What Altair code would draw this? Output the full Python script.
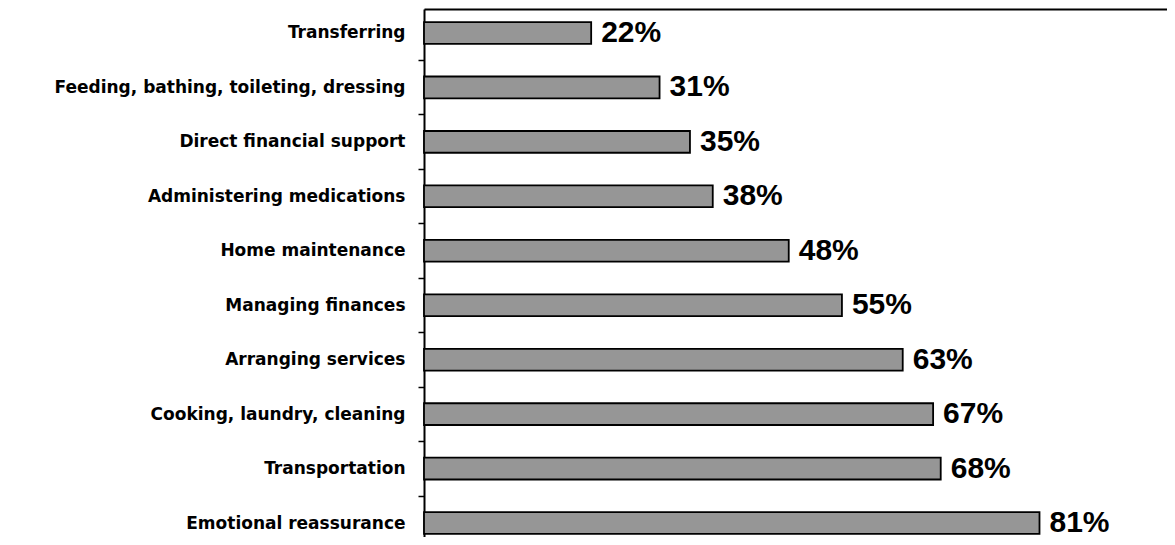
import altair as alt
import pandas as pd

categories = [
    "Transferring",
    "Feeding, bathing, toileting, dressing",
    "Direct financial support",
    "Administering medications",
    "Home maintenance",
    "Managing finances",
    "Arranging services",
    "Cooking, laundry, cleaning",
    "Transportation",
    "Emotional reassurance",
]
values = [22, 31, 35, 38, 48, 55, 63, 67, 68, 81]

df = pd.DataFrame({"task": categories, "pct": values})
df["label"] = df["pct"].astype(str) + "%"

y_enc = alt.Y(
    "task:N",
    sort=categories,
    title=None,
    scale=alt.Scale(paddingInner=0.6, paddingOuter=0.24),
    axis=alt.Axis(
        tickOffset=27,
        labelOffset=-27,
        tickSize=6,
        tickWidth=1.5,
        tickColor="black",
        domainColor="black",
        domainWidth=2,
        labelFont="DejaVu Sans",
        labelFontWeight="bold",
        labelFontSize=17,
        labelColor="black",
        labelPadding=13,
        labelLimit=500,
        grid=False,
    ),
)
x_enc = alt.X(
    "pct:Q",
    title=None,
    scale=alt.Scale(domain=[0, 98.7], nice=False, zero=True),
    axis=alt.Axis(
        orient="top",
        labels=False,
        ticks=False,
        grid=False,
        domainColor="black",
        domainWidth=2,
    ),
)

bars = alt.Chart(df).mark_bar(
    color="#969696", stroke="black", strokeWidth=1.8
).encode(x=x_enc, y=y_enc)

text = alt.Chart(df).mark_text(
    align="left",
    baseline="middle",
    dx=10,
    font="Liberation Sans",
    fontWeight="bold",
    fontSize=30,
    color="black",
).encode(x=alt.X("pct:Q"), y=alt.Y("task:N", sort=categories), text="label:N")

chart = (
    alt.layer(bars, text)
    .properties(
        width=750,
        height=538,
        autosize=alt.AutoSizeParams(type="none"),
        padding={"left": 416, "top": 1, "right": -7, "bottom": -10},
    )
    .configure_view(stroke=None)
    .configure(background="white")
)

chart.save("out.html", embed_options={"renderer": "svg", "actions": False})
